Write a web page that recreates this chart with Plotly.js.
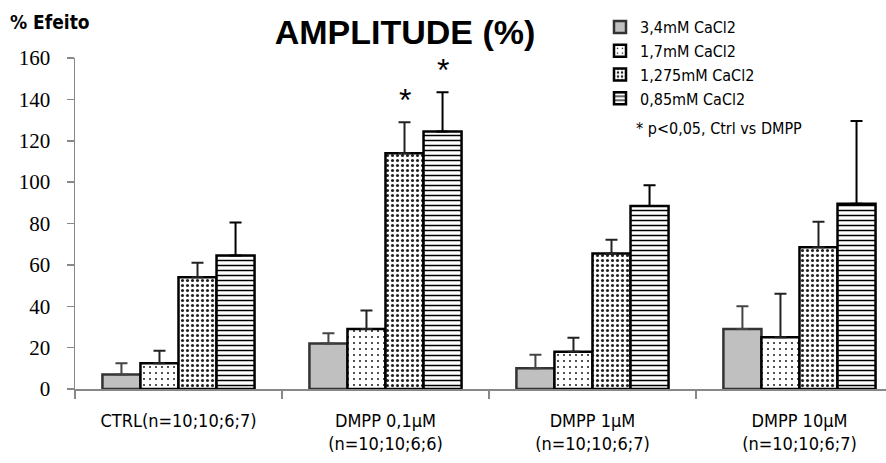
<!DOCTYPE html>
<html><head><meta charset="utf-8">
<script src="https://cdn.plot.ly/plotly-3.0.1.min.js"></script>
<style>html,body{margin:0;padding:0;background:#fff}</style>
</head><body><div id="chart" style="width:886px;height:463px"></div>
<script>
var categories = ["CTRL(n=10;10;6;7)", "DMPP 0,1µM<br>(n=10;10;6;6)", "DMPP 1µM<br>(n=10;10;6;7)", "DMPP 10µM<br>(n=10;10;6;7)"];
var seriesNames = ["3,4mM CaCl2", "1,7mM CaCl2", "1,275mM CaCl2", "0,85mM CaCl2"];
var v34  = [7, 22, 10, 29];
var e34  = [5.5, 5, 6.5, 11];
var v17  = [12.5, 29, 18, 25];
var e17  = [6, 9, 6.8, 21];
var v1275 = [54, 114, 65.5, 68.5];
var e1275 = [7, 15, 6.6, 12.3];
var v085 = [64.5, 124.5, 88.5, 89.5];
var e085 = [16, 19, 10, 40];
var significant = [[1, 2], [1, 3]]; // [category index, series index]
var yTicks = [0, 20, 40, 60, 80, 100, 120, 140, 160];

var narrow = "'DejaVu Sans Condensed', 'Liberation Sans Narrow', sans-serif";
var vals = [v34, v17, v1275, v085];
var errs = [e34, e17, e1275, e085];
var patterns = [
  {shape: "", fillmode: "replace"},
  {shape: ".", fgcolor: "#000", bgcolor: "#fff", size: 6, solidity: 0.07, fillmode: "replace"},
  {shape: ".", fgcolor: "#222", bgcolor: "#fff", size: 5, solidity: 0.3, fillmode: "replace"},
  {shape: "-", fgcolor: "#000", bgcolor: "#fff", size: 5, solidity: 0.3, fillmode: "replace"}
];
var colors = ["#c0c0c0", "#fff", "#fff", "#fff"];
var lineColors = ["#333", "#000", "#000", "#000"];
var errColors = ["#444", "#222", "#222", "#000"];

var traces = vals.map(function(v, i){
  return {
    type: "bar", name: seriesNames[i], x: categories, y: v,
    marker: {color: colors[i], pattern: patterns[i], line: {color: lineColors[i], width: 2.5}},
    error_y: {type: "data", array: errs[i], arrayminus: v.map(function(){return 0;}), symmetric: false,
              color: errColors[i], thickness: 2, width: 6}
  };
});

var bargap = 0.265, nS = vals.length, bw = (1 - bargap) / nS;
var anns = significant.map(function(s){
  var c = s[0], k = s[1];
  return {x: c + (k - (nS - 1) / 2) * bw, y: vals[k][c] + errs[k][c] + 1, xref: "x", yref: "y",
          text: "*", showarrow: false, yanchor: "bottom", font: {size: 32, color: "#000", family: "Liberation Sans, sans-serif"}};
});
anns.push({xref: "paper", yref: "paper", x: -0.082, y: 1.109, xanchor: "left", yanchor: "middle",
           text: "<b>% Efeito</b>", showarrow: false, font: {size: 19, color: "#000", family: narrow}});
anns.push({xref: "paper", yref: "paper", x: (634 - 75) / 811, y: 1 - (128 - 58) / 331, xanchor: "left", yanchor: "middle",
           text: "* p<0,05, Ctrl vs DMPP", showarrow: false, font: {size: 16, color: "#000", family: narrow}});

var layout = {
  width: 886, height: 463,
  margin: {l: 75, r: 0, t: 58, b: 74},
  paper_bgcolor: "#fff", plot_bgcolor: "#fff",
  barmode: "group", bargap: bargap, bargroupgap: 0,
  title: {text: "<b>AMPLITUDE (%)</b>", x: 405 / 886, xanchor: "center", y: 1 - 32 / 463, yanchor: "middle",
          font: {size: 34, color: "#000", family: "'Liberation Sans', sans-serif"}},
  xaxis: {range: [-0.5, 3.418], tickson: "boundaries", ticks: "outside", ticklen: 8, tickcolor: "#888", tickwidth: 1.5,
          showline: true, linecolor: "#888", linewidth: 2, showgrid: false, zeroline: false,
          ticklabelstandoff: 14,
          tickfont: {size: 18, color: "#000", family: narrow}, fixedrange: true},
  yaxis: {range: [0, 160], tickvals: yTicks, ticks: "outside", ticklen: 7, tickcolor: "#888", tickwidth: 1.5,
          showline: true, linecolor: "#888", linewidth: 1.5, showgrid: false, zeroline: false,
          ticklabelstandoff: 12,
          tickfont: {size: 21, color: "#000", family: "'Liberation Serif', serif"}},
  legend: {x: (600 - 75) / 811, xanchor: "left", y: 1 + (58 - 10) / 331, yanchor: "top",
           font: {size: 16, color: "#000", family: narrow}, itemwidth: 30, tracegroupgap: 0,
           bgcolor: "rgba(0,0,0,0)", traceorder: "normal"},
  showlegend: true,
  annotations: anns
};
Plotly.newPlot("chart", traces, layout, {displayModeBar: false, staticPlot: true});
</script></body></html>
